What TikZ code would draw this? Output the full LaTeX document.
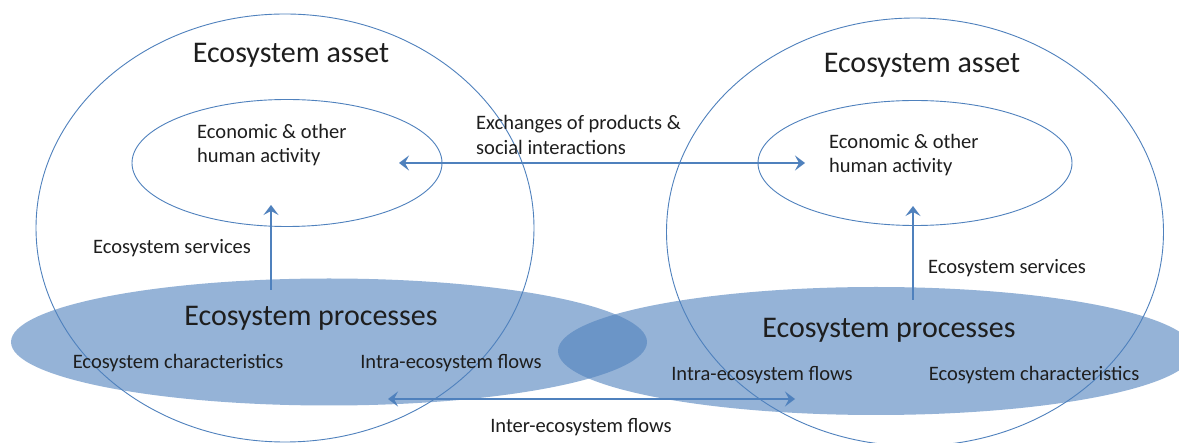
\documentclass[tikz,border=0pt]{standalone}
\usepackage{fontspec}
\setmainfont{Carlito}
\usetikzlibrary{shapes.geometric,arrows.meta}
\definecolor{ob}{HTML}{4F81BD}
\definecolor{txt}{HTML}{1E1E1E}
\begin{document}
\begin{tikzpicture}[x=1pt,y=-1pt,
  ring/.style={draw=ob,line width=0.9pt,ellipse,inner sep=0pt},
  proc/.style={fill=ob,fill opacity=0.6,ellipse,inner sep=0pt,draw=none},
  flow/.style={draw=ob,line width=2.8pt},
  tip/.tip={Stealth[length=10pt,width=15pt,inset=4pt]},
  big/.style={font=\fontsize{30}{34}\selectfont,text=txt,inner sep=0pt},
  small/.style={font=\fontsize{20.5}{24.5}\selectfont,text=txt,align=left,inner sep=0pt}
]
\fill[white] (0,0) rectangle (1179,443);
\useasboundingbox (0,0) rectangle (1179,443);

% ecosystem processes (filled, translucent)
\node[proc,minimum width=636pt,minimum height=127pt] (procL) at (329,342) {};
\node[proc,minimum width=636pt,minimum height=128pt] (procR) at (876,351) {};

% ecosystem asset circles
\node[ring,minimum width=498pt,minimum height=428pt] (assetL) at (285,228) {};
\node[ring,minimum width=497pt,minimum height=428pt] (assetR) at (915,232) {};

% economic activity ellipses
\node[ring,minimum width=310pt,minimum height=127pt] (humL) at (287,163) {};
\node[ring,minimum width=314pt,minimum height=125pt] (humR) at (915,163) {};

% texts
\node[big] (tAL) at (291,55) {Ecosystem asset};
\node[big] (tAR) at (922,65) {Ecosystem asset};
\node[small,anchor=west] (tHL) at (197,145) {Economic \& other\\human activity};
\node[small,anchor=west] (tHR) at (829,155) {Economic \& other\\human activity};
\node[small,anchor=west] (tEx) at (476,135) {Exchanges of products \&\\social interactions};
\node[small] (tSL) at (172,248) {Ecosystem services};
\node[small] (tSR) at (1007,268) {Ecosystem services};
\node[big] (tPL) at (311,318) {Ecosystem processes};
\node[big] (tPR) at (889,330) {Ecosystem processes};
\node[small] (tCL) at (178,363) {Ecosystem characteristics};
\node[small] (tFL) at (451,363) {Intra-ecosystem flows};
\node[small] (tFR) at (762,375) {Intra-ecosystem flows};
\node[small] (tCR) at (1034,375) {Ecosystem characteristics};
\node[small] (tIn) at (581,427) {Inter-ecosystem flows};

% arrow end points
\coordinate (sL0) at (271,290);
\coordinate (sL1) at (271,205);
\coordinate (sR0) at (913,300);
\coordinate (sR1) at (913,206);
\coordinate (exL) at (399,163);
\coordinate (exR) at (805,163);
\coordinate (inL) at (388,399);
\coordinate (inR) at (795,399);

\draw[flow,-tip] (sL0) -- (sL1);
\draw[flow,-tip] (sR0) -- (sR1);
\draw[flow,tip-tip] (exL) -- (exR);
\draw[flow,tip-tip] (inL) -- (inR);
\end{tikzpicture}
\end{document}
